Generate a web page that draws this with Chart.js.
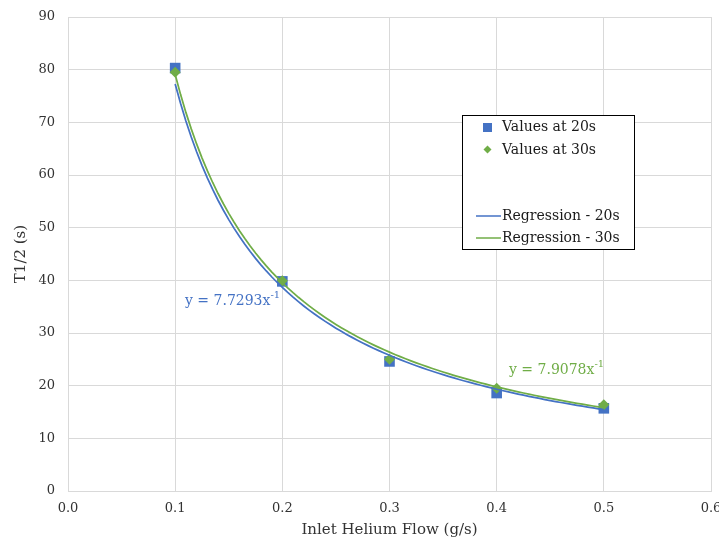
<!DOCTYPE html>
<html>
<head>
<meta charset="utf-8">
<script src="https://cdn.jsdelivr.net/npm/chart.js@4/dist/chart.umd.min.js"></script>
<style>
  html, body { margin: 0; padding: 0; background: #fff; }
  #wrap { width: 719px; height: 541px; }
</style>
</head>
<body>
<div id="wrap"><canvas id="chart-1"></canvas></div>
<script>
// measured half-life values for each inlet flow
const flows = [0.1, 0.2, 0.3, 0.4, 0.5];
const values20s = [80.3, 39.8, 24.6, 18.6, 15.7];
const values30s = [79.5, 39.9, 25.0, 19.5, 16.4];

// power regression y = a * x^-1
const coef20s = 7.7293;
const coef30s = 7.9078;

const blue = '#4472C4';
const green = '#70AD47';
const font = "'DejaVu Serif', serif";

const toPoints = (ys) => flows.map((x, i) => ({ x: x, y: ys[i] }));

function regressionCurve(a) {
    const pts = [];
    for (let i = 0; i <= 80; i++) {
        const x = 0.1 + i * 0.005;
        pts.push({ x: x, y: a / x });
    }
    return pts;
}

// legend box and equation labels drawn on top of the plot
const overlay = {
    id: 'overlay',
    afterDraw(chart) {
        const ctx = chart.ctx;
        ctx.save();

        // equations
        const eq = (text, x, y, color) => {
            ctx.fillStyle = color;
            ctx.font = '14px ' + font;
            ctx.textBaseline = 'middle';
            ctx.textAlign = 'left';
            ctx.fillText(text, x, y);
            const w = ctx.measureText(text).width;
            ctx.font = '10px ' + font;
            ctx.fillText('-1', x + w, y - 6);
        };
        eq('y = ' + coef20s + 'x', 185, 301, blue);
        eq('y = ' + coef30s + 'x', 509, 370, green);

        // legend
        const bx = 462.5, by = 115.5, bw = 172, bh = 134;
        ctx.fillStyle = '#fff';
        ctx.fillRect(bx, by, bw, bh);
        ctx.strokeStyle = '#000';
        ctx.lineWidth = 1;
        ctx.strokeRect(bx, by, bw, bh);

        ctx.font = '14px ' + font;
        ctx.fillStyle = '#1a1a1a';
        ctx.textBaseline = 'middle';
        ctx.textAlign = 'left';
        const tx = 502;

        ctx.fillStyle = blue;
        ctx.fillRect(483, 123, 9, 9);
        ctx.fillStyle = '#1a1a1a';
        ctx.fillText('Values at 20s', tx, 127);

        ctx.fillStyle = green;
        ctx.beginPath();
        ctx.moveTo(487.5, 145.5);
        ctx.lineTo(491.5, 149.5);
        ctx.lineTo(487.5, 153.5);
        ctx.lineTo(483.5, 149.5);
        ctx.closePath();
        ctx.fill();
        ctx.fillStyle = '#1a1a1a';
        ctx.fillText('Values at 30s', tx, 150);

        ctx.lineWidth = 1.5;
        ctx.strokeStyle = blue;
        ctx.beginPath();
        ctx.moveTo(476, 216);
        ctx.lineTo(501, 216);
        ctx.stroke();
        ctx.fillText('Regression - 20s', tx, 216);

        ctx.strokeStyle = green;
        ctx.beginPath();
        ctx.moveTo(476, 238);
        ctx.lineTo(501, 238);
        ctx.stroke();
        ctx.fillText('Regression - 30s', tx, 238);

        ctx.restore();
    }
};

new Chart(document.querySelector('#chart-1').getContext('2d'), {
    type: 'scatter',
    data: {
        datasets: [
            {
                label: 'Regression - 30s',
                data: regressionCurve(coef30s),
                showLine: true,
                borderColor: green,
                borderWidth: 1.75,
                pointRadius: 0,
                order: 0
            },
            {
                label: 'Regression - 20s',
                data: regressionCurve(coef20s),
                showLine: true,
                borderColor: blue,
                borderWidth: 1.75,
                pointRadius: 0,
                order: 1
            },
            {
                label: 'Values at 30s',
                data: toPoints(values30s),
                pointStyle: 'rectRot',
                pointRadius: 5.5,
                backgroundColor: green,
                borderColor: green,
                borderWidth: 0,
                order: 2
            },
            {
                label: 'Values at 20s',
                data: toPoints(values20s),
                pointStyle: 'rect',
                pointRadius: 7.5,
                backgroundColor: blue,
                borderColor: blue,
                borderWidth: 0,
                order: 3
            }
        ]
    },
    options: {
        responsive: true,
        maintainAspectRatio: false,
        animation: false,
        layout: { padding: { top: 17, right: 8, bottom: 2, left: 12 } },
        plugins: {
            legend: { display: false },
            tooltip: { enabled: false }
        },
        scales: {
            x: {
                type: 'linear',
                min: 0,
                max: 0.6,
                ticks: {
                    stepSize: 0.1,
                    color: '#333',
                    font: { family: font, size: 13 },
                    padding: 10,
                    callback: (v) => v.toFixed(1)
                },
                grid: { color: '#d9d9d9', drawTicks: false },
                border: { color: '#d9d9d9' },
                title: {
                    display: true,
                    text: 'Inlet Helium Flow (g/s)',
                    color: '#333',
                    font: { family: font, size: 15 },
                    padding: { top: 4, bottom: 0 }
                },
                afterFit(scale) {
                    scale.paddingLeft = 0;
                    scale.paddingRight = 0;
                    scale.height = 48;
                }
            },
            y: {
                min: 0,
                max: 90,
                ticks: {
                    stepSize: 10,
                    color: '#333',
                    font: { family: font, size: 13 },
                    padding: 13
                },
                grid: { color: '#d9d9d9', drawTicks: false },
                border: { color: '#d9d9d9' },
                title: {
                    display: true,
                    text: 'T1/2 (s)',
                    color: '#333',
                    font: { family: font, size: 15 },
                    padding: { top: 0, bottom: 4 }
                },
                afterFit(scale) {
                    scale.width = 56;
                    scale.paddingTop = 0;
                    scale.paddingBottom = 0;
                }
            }
        }
    },
    plugins: [overlay]
});
</script>
</body>
</html>
